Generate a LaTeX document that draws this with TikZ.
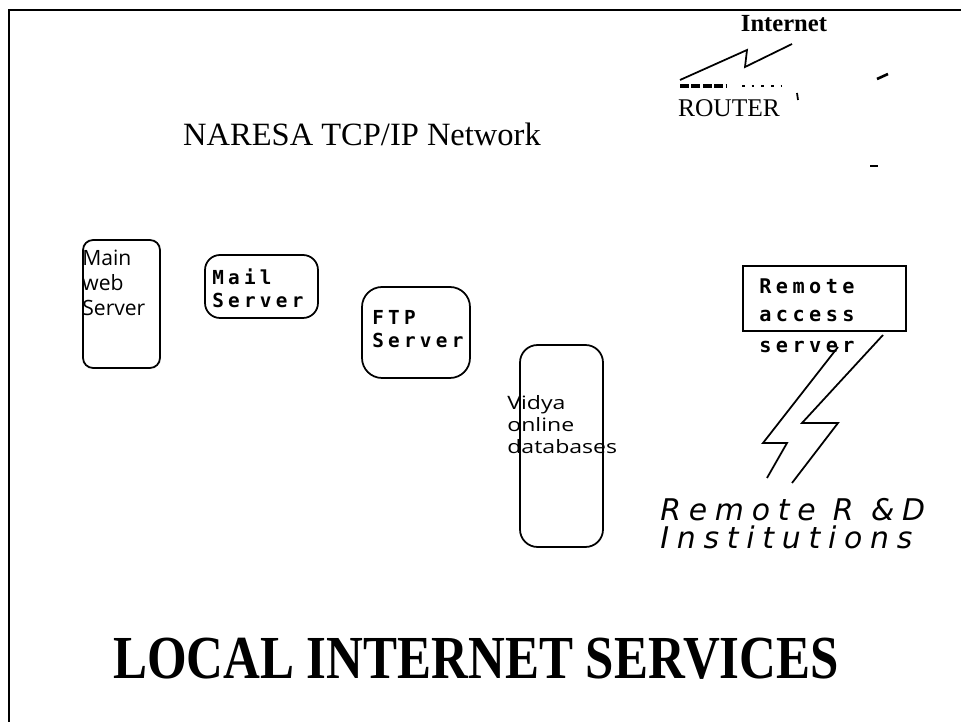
\documentclass[tikz,border=0pt]{standalone}
\usepackage{fontspec}
\setmainfont{Liberation Serif}
\newfontfamily\monofont{DejaVu Sans Mono}[LetterSpace=22]
\newfontfamily\remfont{DejaVu Sans}[LetterSpace=26]
\newfontfamily\handfont{Open Sans}

\begin{document}
\begin{tikzpicture}[x=0.02cm,y=-0.02cm,
  srv/.style={draw,line width=1pt,inner sep=0pt},
  mono/.style={align=left,inner sep=0pt,font=\monofont\bfseries\fontsize{11}{13}\selectfont},
  hand/.style={align=left,inner sep=0pt,font=\handfont\fontsize{12}{14}\selectfont},
  bolt/.style={line width=1pt,line join=miter}]
\useasboundingbox (0,0) rectangle (961,722);
% frame of the slide
\draw[line width=1.3pt] (9,722) -- (9,10) -- (961,10);

% router up to the internet
\node[font=\bfseries\fontsize{14}{14}\selectfont,inner sep=0pt] (inet) at (784,24) {Internet};
\node[font=\fontsize{14.5}{15}\selectfont,inner sep=0pt] (router) at (729,108) {ROUTER};
\coordinate (r1) at (680,80);
\coordinate (i1) at (792,44);
\draw[bolt] (r1) -- (747,50) -- (745,67) -- (i1);
\draw[line width=2pt,dash pattern=on 5pt off 1.5pt] (680,86) -- (727,86);
\draw[line width=1.2pt,dash pattern=on 1.5pt off 4pt] (742,86) -- (782,86);
\draw[line width=1pt] (797,93) -- (798,100);
\draw[line width=1.5pt] (877,79) -- (888,74);
\draw[line width=1.5pt] (870,166) -- (878,166);

\node[font=\fontsize{18.5}{19}\selectfont] (net) at (362,134) {NARESA TCP/IP Network};

% servers
\node[srv,rounded corners=0.2cm,minimum width=1.54cm,minimum height=2.56cm] (web) at (121.5,304) {};
\node[hand,anchor=north west] (webtxt) at (82,250) {Main\\web\\Server};

\node[srv,rounded corners=0.3cm,minimum width=2.26cm,minimum height=1.26cm] (mail) at (261.5,286.5) {};
\node[mono,anchor=west] (mailtxt) at (212,288) {Mail\\Server};

\node[srv,rounded corners=0.4cm,minimum width=2.16cm,minimum height=1.82cm] (ftp) at (416,332.5) {};
\node[mono,anchor=west] (ftptxt) at (372,329) {FTP\\Server};

\node[srv,rounded corners=0.35cm,minimum width=1.66cm,minimum height=4.04cm] (vidya) at (561.5,446) {};
\node[hand,anchor=west,font=\handfont\fontsize{10.5}{12.5}\selectfont] (vidtxt) at (507,427) {\scalebox{1.25}[1]{\begin{tabular}{@{}l@{}}Vidya\\online\\databases\end{tabular}}};

% remote access
\node[srv,line width=1.3pt,minimum width=3.26cm,minimum height=1.3cm] (ras) at (824.5,298.5) {};
\node[mono,anchor=north west,font=\monofont\bfseries\fontsize{11.5}{16}\selectfont] (rastxt) at (759,278) {Remote\\access\\[2pt]server};

\node[anchor=north west,align=left,inner sep=0pt,font=\remfont\itshape\fontsize{17}{16}\selectfont] (rnd) at (660,498) {Remote R \&D\\Institutions};
\coordinate (b1) at (838,347);
\coordinate (b2) at (883,335);
\coordinate (e1) at (767,478);
\coordinate (e2) at (792,483);
\draw[bolt] (b1) -- (763,443) -- (787,443) -- (e1);
\draw[bolt] (b2) -- (802,423) -- (838,423) -- (e2);

\node[font=\bfseries\fontsize{29}{30}\selectfont] (title) at (476,659) {\scalebox{1}[1.2]{LOCAL INTERNET SERVICES}};
\end{tikzpicture}
\end{document}
